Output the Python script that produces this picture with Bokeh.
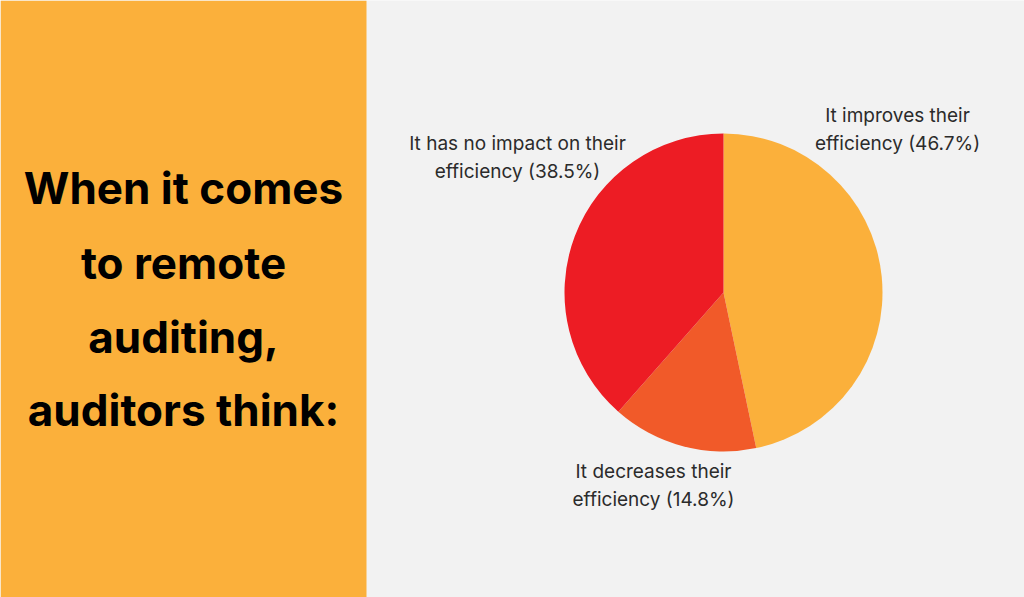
import numpy as np
from bokeh.plotting import figure
from bokeh.models import Range1d
from bokeh.core.properties import value
from bokeh.embed import file_html
from bokeh.resources import INLINE

# ---- data ----
categories = ["It improves their efficiency", "It decreases their efficiency", "It has no impact on their efficiency"]
shares = [46.7, 14.8, 38.5]
colors = ["#FBB03B", "#F15A29", "#ED1C24"]
label_lines = [
    ["It improves their", "efficiency (46.7%)"],
    ["It decreases their", "efficiency (14.8%)"],
    ["It has no impact on their", "efficiency (38.5%)"],
]
title_lines = ["When it comes", "to remote", "auditing,", "auditors think:"]

# ---- layout (image pixel coords, y measured from the top) ----
W, H = 1024, 597
def Y(y):
    return H - y

p = figure(width=W, height=H, output_backend="svg", toolbar_location=None,
           x_range=Range1d(0, W), y_range=Range1d(0, H), min_border=0)
p.axis.visible = False
p.grid.visible = False
p.outline_line_color = None
p.background_fill_color = "#F2F2F2"
p.border_fill_color = "#F2F2F2"

# left panel
p.quad(left=[0], right=[366], bottom=[Y(H)], top=[Y(0)], fill_color="#FBB03B", line_color=None)

# title
title_baselines = [187, 262, 336, 409]
p.text(x=[183] * 4, y=[Y(b) for b in title_baselines], text=title_lines,
       text_font=value("Inter"), text_font_style="bold", text_font_size="44px",
       text_color="#000000", text_align="center", text_baseline="alphabetic")

# pie
cx, cy, r = 723, Y(292), 159
fr = np.array(shares) / sum(shares)
cum = np.concatenate([[0], np.cumsum(fr)])
start = np.pi / 2 - cum[1:] * 2 * np.pi
end = np.pi / 2 - cum[:-1] * 2 * np.pi
p.wedge(x=[cx] * 3, y=[cy] * 3, radius=r, start_angle=list(start), end_angle=list(end),
        fill_color=colors, line_color=None)

# labels
label_pos = [(897, 115), (653, 471), (517, 143)]
for (lx, ly), lines in zip(label_pos, label_lines):
    p.text(x=[lx, lx], y=[Y(ly), Y(ly + 28)], text=lines,
           text_font=value("Inter"), text_font_size="19px", text_color="#2B2B2B",
           text_align="center", text_baseline="alphabetic")

open("out.html", "w").write(file_html(p, INLINE))
